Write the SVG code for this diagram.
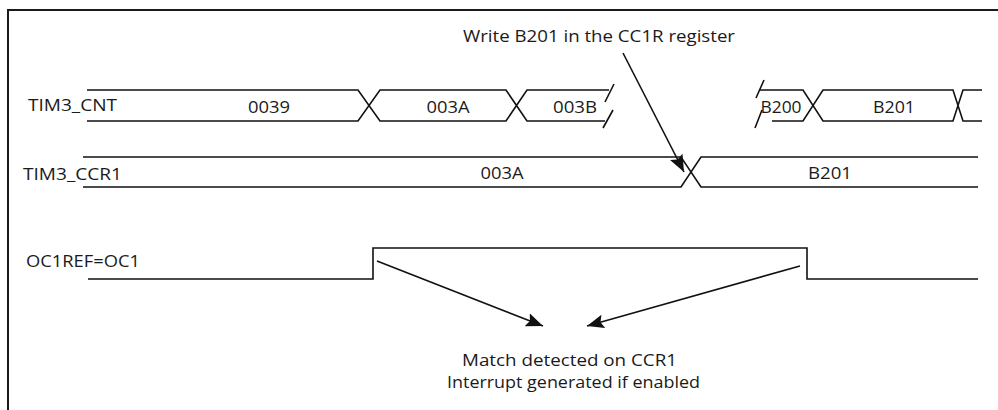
<svg xmlns="http://www.w3.org/2000/svg" width="998" height="410" viewBox="0 0 998 410">
  <style>
    .frame { fill: none; stroke: #1a1a1a; stroke-width: 2; }
    .wave { fill: none; stroke: #111; stroke-width: 1.6; stroke-linejoin: miter; }
    .conn { fill: none; stroke: #111; stroke-width: 1.6; }
    text { font-family: "Open Sans", "Liberation Sans", Arial, sans-serif; font-size: 16px; fill: #1a1a1a; }
    .mid { text-anchor: middle; }
  </style>
  <defs>
    <marker id="arrow" markerUnits="userSpaceOnUse" markerWidth="20" markerHeight="16" refX="17" refY="7" orient="auto">
      <path d="M0,0 L17,7 L0,14 L3,7 Z" fill="#111"/>
    </marker>
  </defs>
  <rect width="998" height="410" fill="#ffffff"/>
  <g id="frame">
    <polyline class="frame" points="8,410 8,10 998,10"/>
  </g>

  <g id="tim3-cnt">
    <text x="28" y="111" textLength="89" lengthAdjust="spacingAndGlyphs">TIM3_CNT</text>
    <path class="wave" d="M87,90 H358 L380,121 H506 L527,90 H609 M87,121 H358 L380,90 H506 L527,121 H605"/>
    <path class="wave" d="M605,102 L614,84 M603,128 L613,110"/>
    <path class="wave" d="M756,98 L764,80 M755,128 L762,110"/>
    <path class="wave" d="M760,90 H803 L823,121 H953 L963,90 H982 M772,121 H803 L823,90 H953 L963,121 H982"/>
    <text class="mid" x="269" y="112.5" textLength="42" lengthAdjust="spacingAndGlyphs">0039</text>
    <text class="mid" x="448" y="112.5" textLength="43" lengthAdjust="spacingAndGlyphs">003A</text>
    <text class="mid" x="575" y="112.5" textLength="44" lengthAdjust="spacingAndGlyphs">003B</text>
    <text class="mid" x="781" y="112.5" textLength="41" lengthAdjust="spacingAndGlyphs">B200</text>
    <text class="mid" x="894" y="112.5" textLength="42" lengthAdjust="spacingAndGlyphs">B201</text>
  </g>

  <g id="tim3-ccr1">
    <text x="23" y="180" textLength="99" lengthAdjust="spacingAndGlyphs">TIM3_CCR1</text>
    <path class="wave" d="M83,157 H681 L701,187 H978 M83,187 H681 L701,157 H978"/>
    <text class="mid" x="502" y="179.3" textLength="43" lengthAdjust="spacingAndGlyphs">003A</text>
    <text class="mid" x="830" y="179.3" textLength="44" lengthAdjust="spacingAndGlyphs">B201</text>
  </g>

  <g id="oc1ref">
    <text x="26" y="266.5" textLength="114" lengthAdjust="spacingAndGlyphs">OC1REF=OC1</text>
    <path class="wave" d="M88,279 H373 V248 H807 V279 H978"/>
  </g>

  <g id="write-note">
    <text class="mid" x="599" y="41.5" textLength="272" lengthAdjust="spacingAndGlyphs">Write B201 in the CC1R register</text>
  </g>

  <g id="match-note">
    <text class="mid" x="569.5" y="365.5" textLength="215" lengthAdjust="spacingAndGlyphs">Match detected on CCR1</text>
    <text class="mid" x="573.5" y="388" textLength="253" lengthAdjust="spacingAndGlyphs">Interrupt generated if enabled</text>
  </g>

  <g id="connectors">
    <line class="conn" x1="623" y1="53" x2="684" y2="172" marker-end="url(#arrow)"/>
    <line class="conn" x1="377" y1="261" x2="543" y2="326" marker-end="url(#arrow)"/>
    <line class="conn" x1="800" y1="266" x2="587" y2="326" marker-end="url(#arrow)"/>
  </g>
</svg>
